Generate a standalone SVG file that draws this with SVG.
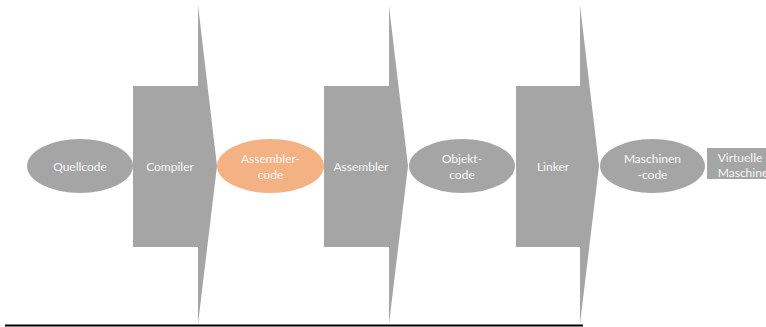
<svg xmlns="http://www.w3.org/2000/svg" width="766" height="327" viewBox="0 0 766 327">
  <style>
    .proc { fill: #a5a5a5; }
    .data { fill: #a5a5a5; }
    .hl { fill: #f4b183; }
    .lbl { font-family: Lato, "Open Sans", "Liberation Sans", sans-serif; font-size: 12px; fill: #f7f7f7; text-anchor: middle; }
  </style>
  <rect width="766" height="327" fill="#ffffff"/>

  <!-- data nodes -->
  <g id="quellcode">
    <ellipse class="data" cx="80" cy="166" rx="53" ry="27"/>
    <text class="lbl" x="80" y="170.5">Quellcode</text>
  </g>

  <!-- process nodes (block arrows) -->
  <g id="compiler">
    <path class="proc" d="M133,86 H198 V5 L217,166 L198,324 V247 H133 Z"/>
    <text class="lbl" x="170" y="170.5">Compiler</text>
  </g>

  <g id="assemblercode">
    <ellipse class="hl" cx="270.5" cy="166" rx="53.5" ry="27"/>
    <text class="lbl" x="270.5" y="163">Assembler-</text>
    <text class="lbl" x="270.5" y="178.5">code</text>
  </g>

  <g id="assembler">
    <path class="proc" d="M324,86 H389 V6 L408,166 L389,324 V247 H324 Z"/>
    <text class="lbl" x="361" y="170.5">Assembler</text>
  </g>

  <g id="objektcode">
    <ellipse class="data" cx="462" cy="166" rx="53" ry="27"/>
    <text class="lbl" x="462" y="163">Objekt-</text>
    <text class="lbl" x="462" y="178.5">code</text>
  </g>

  <g id="linker">
    <path class="proc" d="M516,86 H580 V5 L599,166 L580,324 V247 H516 Z"/>
    <text class="lbl" x="553" y="170.5">Linker</text>
  </g>

  <g id="maschinencode">
    <ellipse class="data" cx="652.5" cy="166" rx="52.5" ry="27"/>
    <text class="lbl" x="652.5" y="163">Maschinen</text>
    <text class="lbl" x="652.5" y="178.5">-code</text>
  </g>

  <g id="virtuelle-maschine">
    <rect class="proc" x="707" y="148" width="70" height="31"/>
    <text class="lbl" x="740" y="162">Virtuelle</text>
    <text class="lbl" x="743" y="177">Maschine</text>
  </g>

  <!-- connectors: flow is expressed by the block arrows, no separate lines -->
  <g id="connectors"></g>

  <!-- baseline rule -->
  <line x1="5" y1="325.5" x2="583" y2="325.5" stroke="#000000" stroke-width="2"/>
</svg>
